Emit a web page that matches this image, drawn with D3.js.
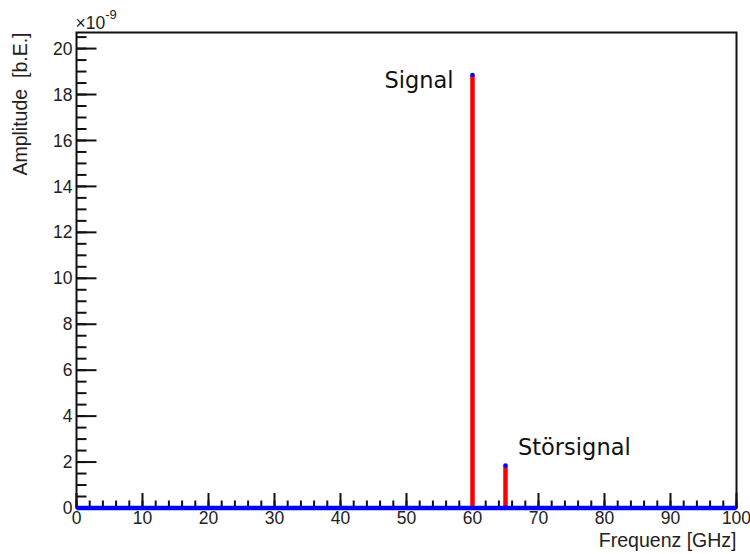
<!DOCTYPE html>
<html>
<head>
<meta charset="utf-8">
<script src="https://cdn.jsdelivr.net/npm/d3@7"></script>
<style>
  html, body { margin: 0; padding: 0; background: #fff; }
  svg { display: block; }
  .tick-label { font-family: "Liberation Sans", Arial, sans-serif; font-size: 17.5px; fill: #222; }
  .axis-title { font-family: "Liberation Sans", Arial, sans-serif; font-size: 19.5px; fill: #222; white-space: pre; }
  .peak-label { font-family: "DejaVu Sans", Verdana, sans-serif; font-size: 22.5px; fill: #111; }
</style>
</head>
<body>
<svg id="chart" width="750" height="554"></svg>
<script>
// Spectrum peaks (amplitude in units of 1e-9)
const peakFreqs = [60, 65];
const peakAmps = [18.85, 1.85];
const peakNames = ["Signal", "Störsignal"];

// Flat background spectrum
const baseFreqs = [0, 100];
const baseAmps = [0, 0];

// Axis ticks
const xMajorTicks = [0, 10, 20, 30, 40, 50, 60, 70, 80, 90, 100];
const yMajorTicks = [0, 2, 4, 6, 8, 10, 12, 14, 16, 18, 20];

const xTitle = "Frequenz [GHz]";
const yTitle = "Amplitude  [b.E.]";

(function () {
  const svg = d3.select("#chart");
  const padL = 76.5, padR = 736.5, padT = 32.5, padB = 508;

  const x = d3.scaleLinear().domain([0, 100]).range([padL, padR]);
  const y = d3.scaleLinear().domain([0, 20.7]).range([padB, padT]);

  // Minor ticks
  const xMinor = d3.range(0, 100.001, 2);
  const yMinor = d3.range(0, 20.7, 0.5);

  const g = svg.append("g");

  // Left axis ticks (drawn inward)
  g.selectAll("line.ymin").data(yMinor).join("line")
    .attr("x1", padL).attr("x2", padL + 10)
    .attr("y1", d => y(d)).attr("y2", d => y(d))
    .attr("stroke", "#111").attr("stroke-width", 2);
  g.selectAll("line.ymaj").data(yMajorTicks).join("line")
    .attr("x1", padL).attr("x2", padL + 20)
    .attr("y1", d => y(d)).attr("y2", d => y(d))
    .attr("stroke", "#111").attr("stroke-width", 2);

  // Bottom axis ticks (drawn inward)
  g.selectAll("line.xmin").data(xMinor).join("line")
    .attr("x1", d => x(d)).attr("x2", d => x(d))
    .attr("y1", padB).attr("y2", padB - 7.5)
    .attr("stroke", "#111").attr("stroke-width", 2);
  g.selectAll("line.xmaj").data(xMajorTicks).join("line")
    .attr("x1", d => x(d)).attr("x2", d => x(d))
    .attr("y1", padB).attr("y2", padB - 15)
    .attr("stroke", "#111").attr("stroke-width", 2);

  // Frame
  g.append("rect")
    .attr("x", padL).attr("y", padT)
    .attr("width", padR - padL).attr("height", padB - padT)
    .attr("fill", "none").attr("stroke", "#111").attr("stroke-width", 2);

  // Tick labels
  g.selectAll("text.yl").data(yMajorTicks).join("text")
    .attr("class", "tick-label")
    .attr("x", padL - 4).attr("y", d => y(d))
    .attr("dy", "0.35em").attr("text-anchor", "end")
    .text(d => d);
  g.selectAll("text.xl").data(xMajorTicks).join("text")
    .attr("class", "tick-label")
    .attr("x", d => x(d)).attr("y", padB + 16)
    .attr("text-anchor", "middle")
    .text(d => d);

  // Exponent
  const exp = g.append("text").attr("class", "tick-label")
    .attr("x", padL - 1).attr("y", 29);
  exp.append("tspan").text("×10");
  exp.append("tspan").attr("dy", -10).attr("font-size", "13px").text("-9");

  // Axis titles
  g.append("text").attr("class", "axis-title")
    .attr("x", padR).attr("y", padB + 38.5)
    .attr("text-anchor", "end").text(xTitle);
  g.append("text").attr("class", "axis-title")
    .attr("transform", `translate(27, ${padT}) rotate(-90)`)
    .attr("text-anchor", "end").text(yTitle);

  // Peaks: red vertical bars
  const peaks = peakFreqs.map((f, i) => ({ f, a: peakAmps[i], name: peakNames[i] }));
  g.selectAll("line.peak").data(peaks).join("line")
    .attr("x1", d => x(d.f)).attr("x2", d => x(d.f))
    .attr("y1", y(0)).attr("y2", d => y(d.a))
    .attr("stroke", "#ff0000").attr("stroke-width", 4.5);

  // Background spectrum line in blue
  const line = d3.line().x(d => x(d[0])).y(d => y(d[1]));
  g.append("path")
    .datum(baseFreqs.map((f, i) => [f, baseAmps[i]]))
    .attr("d", line)
    .attr("fill", "none").attr("stroke", "#0000ff").attr("stroke-width", 4.5);

  // Peak markers
  g.selectAll("circle.peak").data(peaks).join("circle")
    .attr("cx", d => x(d.f)).attr("cy", d => y(d.a))
    .attr("r", 2.3).attr("fill", "#0000ff");

  // Peak labels
  g.append("text").attr("class", "peak-label")
    .attr("x", x(peaks[0].f) - 19).attr("y", y(peaks[0].a) + 13)
    .attr("text-anchor", "end").text(peaks[0].name);
  g.append("text").attr("class", "peak-label")
    .attr("x", x(peaks[1].f) + 12.5).attr("y", y(peaks[1].a) - 10.5)
    .attr("text-anchor", "start").text(peaks[1].name);
})();
</script>
</body>
</html>
